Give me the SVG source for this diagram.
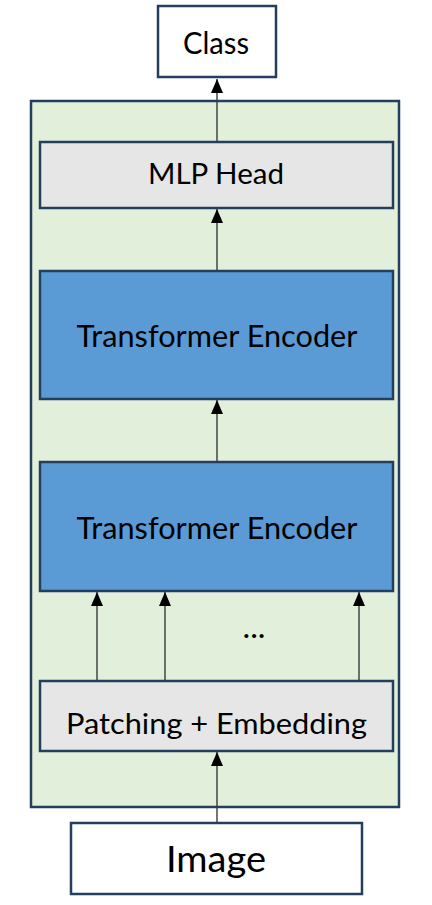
<svg xmlns="http://www.w3.org/2000/svg" width="432" height="905" viewBox="0 0 432 905">
  <style>
    .box { stroke: #243F5E; stroke-width: 2.5; }
    .plain { fill: #FFFFFF; }
    .grey { fill: #E6E6E6; }
    .blue { fill: #5B9BD5; }
    .frame { fill: #E2EFDA; stroke: #243F5E; stroke-width: 2.5; }
    .lbl { font-family: Lato, "Open Sans", "Liberation Sans", sans-serif; fill: #000000; text-anchor: middle; }
    .edge { stroke: #3A3A3A; stroke-width: 1.4; fill: none; marker-end: url(#head); }
  </style>
  <defs>
    <marker id="head" viewBox="0 0 14 12" refX="14" refY="6" markerWidth="14" markerHeight="12" markerUnits="userSpaceOnUse" orient="auto">
      <path d="M0,0 L14,6 L0,12 Z" fill="#000000"/>
    </marker>
  </defs>

  <!-- model frame -->
  <rect class="frame" x="31" y="101" width="368" height="706"/>

  <g id="class">
    <rect class="box plain" x="158" y="6" width="118" height="71"/>
    <text class="lbl" x="216" y="54" font-size="30" textLength="66" lengthAdjust="spacingAndGlyphs">Class</text>
  </g>

  <g id="mlp-head">
    <rect class="box grey" x="40" y="142" width="353" height="66"/>
    <text class="lbl" x="216" y="184" font-size="29" textLength="136" lengthAdjust="spacingAndGlyphs">MLP Head</text>
  </g>

  <g id="encoder-top">
    <rect class="box blue" x="40" y="271" width="353" height="128"/>
    <text class="lbl" x="217" y="347" font-size="30" textLength="281" lengthAdjust="spacingAndGlyphs">Transformer Encoder</text>
  </g>

  <g id="encoder-bottom">
    <rect class="box blue" x="40" y="462" width="353" height="129"/>
    <text class="lbl" x="217" y="539" font-size="30" textLength="281" lengthAdjust="spacingAndGlyphs">Transformer Encoder</text>
  </g>

  <g id="ellipsis">
    <text class="lbl" x="254" y="638" font-size="30" textLength="23" lengthAdjust="spacingAndGlyphs">...</text>
  </g>

  <g id="patching">
    <rect class="box grey" x="40" y="681" width="353" height="70"/>
    <text class="lbl" x="216.5" y="734" font-size="29" textLength="301" lengthAdjust="spacingAndGlyphs">Patching + Embedding</text>
  </g>

  <g id="image">
    <rect class="box plain" x="71" y="823" width="291" height="71"/>
    <text class="lbl" x="216" y="872" font-size="36" textLength="100" lengthAdjust="spacingAndGlyphs">Image</text>
  </g>

  <g id="connectors">
    <line class="edge" x1="217" y1="141" x2="217" y2="79"/>
    <line class="edge" x1="217" y1="270" x2="217" y2="209"/>
    <line class="edge" x1="217" y1="461" x2="217" y2="400"/>
    <line class="edge" x1="97" y1="680" x2="97" y2="592"/>
    <line class="edge" x1="165" y1="680" x2="165" y2="592"/>
    <line class="edge" x1="359" y1="680" x2="359" y2="592"/>
    <line class="edge" x1="217" y1="822" x2="217" y2="752"/>
  </g>
</svg>
